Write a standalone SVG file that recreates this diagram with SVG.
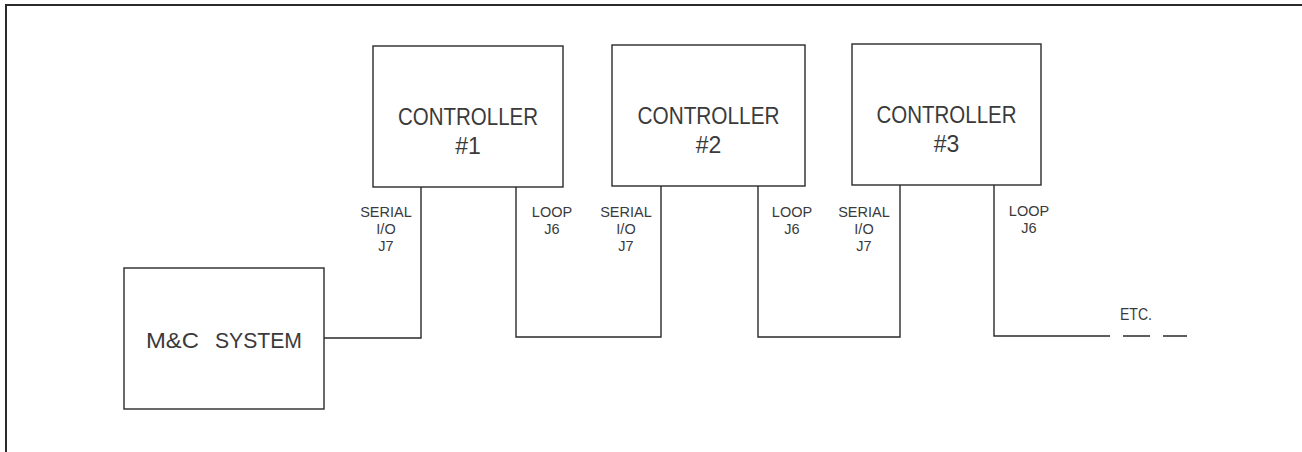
<svg xmlns="http://www.w3.org/2000/svg" width="1302" height="452" viewBox="0 0 1302 452">
<style>
.box{fill:#fff;stroke:#2a2a2a;stroke-width:1.4}
.ln{fill:none;stroke:#2a2a2a;stroke-width:1.4}
.big{font-family:"Liberation Sans",Arial,sans-serif;font-size:23px;fill:#3a3a3a;text-anchor:middle}
.sm{font-family:"Liberation Sans",Arial,sans-serif;font-size:14.5px;fill:#3a3a3a;text-anchor:middle}
.st{text-anchor:start}
</style>
<rect width="1302" height="452" fill="#fff"/>
<path d="M6,452 V5 H1302" fill="none" stroke="#2a2a2a" stroke-width="2"/>
<g id="connectors">
<path class="ln" d="M324,338 H421 V187"/>
<path class="ln" d="M516,187 V337 H661 V186"/>
<path class="ln" d="M758,186 V337 H900 V185"/>
<path class="ln" d="M994,185 V336 H1110"/>
<path class="ln" d="M1123,336 H1150 M1163,336 H1187"/>
<text class="sm" x="386" y="217">SERIAL</text>
<text class="sm" x="386" y="234">I/O</text>
<text class="sm" x="386" y="251">J7</text>
<text class="sm" x="552" y="217">LOOP</text>
<text class="sm" x="552" y="234">J6</text>
<text class="sm" x="626" y="217">SERIAL</text>
<text class="sm" x="626" y="234">I/O</text>
<text class="sm" x="626" y="251">J7</text>
<text class="sm" x="792" y="217">LOOP</text>
<text class="sm" x="792" y="234">J6</text>
<text class="sm" x="864" y="217">SERIAL</text>
<text class="sm" x="864" y="234">I/O</text>
<text class="sm" x="864" y="251">J7</text>
<text class="sm" x="1029" y="216">LOOP</text>
<text class="sm" x="1029" y="233">J6</text>
<text class="sm st" x="1120" y="320" style="font-size:16px" textLength="32" lengthAdjust="spacingAndGlyphs">ETC.</text>
</g>
<g id="mc">
<rect class="box" x="124" y="268" width="200" height="141"/>
<text class="big st" x="146" y="348" style="font-size:22px" textLength="53" lengthAdjust="spacingAndGlyphs">M&amp;C</text>
<text class="big st" x="215" y="348" style="font-size:22px" textLength="87" lengthAdjust="spacingAndGlyphs">SYSTEM</text>
</g>
<g id="controller1">
<rect class="box" x="373" y="46" width="190" height="141"/>
<text class="big" x="468" y="125" textLength="140" lengthAdjust="spacingAndGlyphs">CONTROLLER</text>
<text class="big" x="468" y="154">#1</text>
</g>
<g id="controller2">
<rect class="box" x="612" y="45" width="193" height="141"/>
<text class="big" x="708.5" y="124" textLength="142" lengthAdjust="spacingAndGlyphs">CONTROLLER</text>
<text class="big" x="708.5" y="153">#2</text>
</g>
<g id="controller3">
<rect class="box" x="852" y="44" width="189" height="141"/>
<text class="big" x="946.5" y="123" textLength="140" lengthAdjust="spacingAndGlyphs">CONTROLLER</text>
<text class="big" x="946.5" y="152">#3</text>
</g>
</svg>
